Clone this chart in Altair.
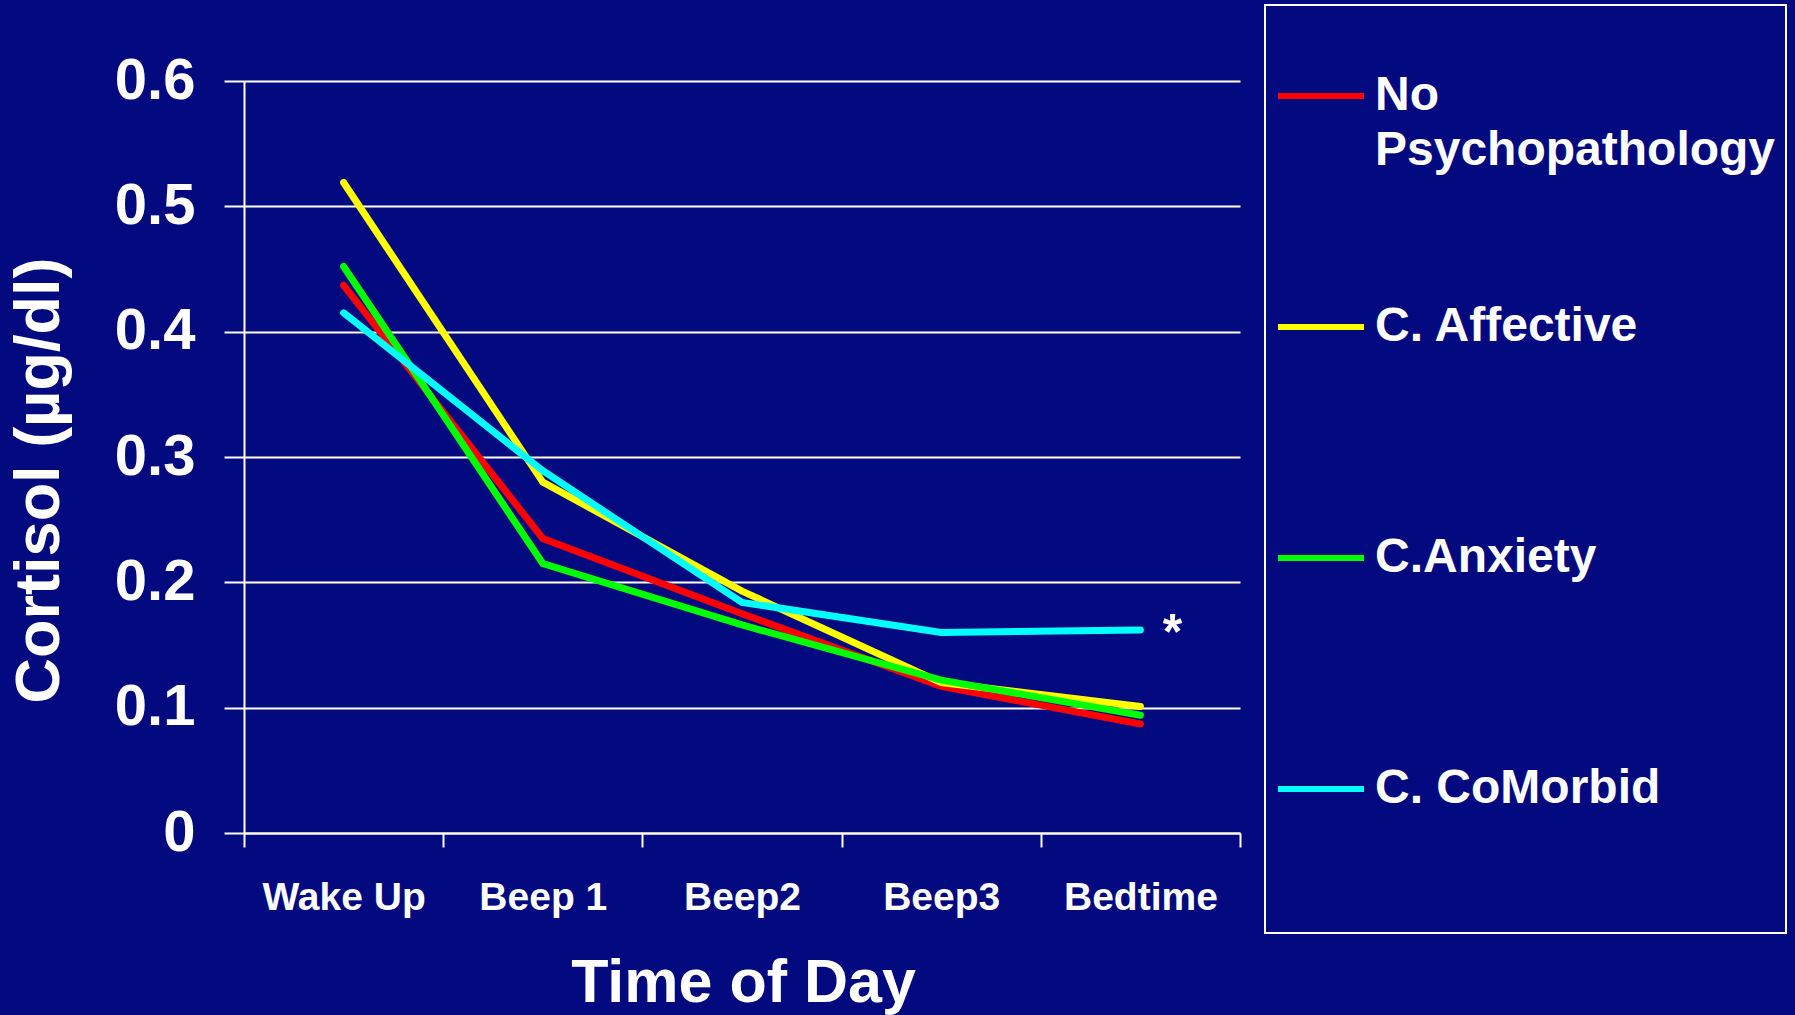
import json
import altair as alt
import pandas as pd

# ---- data ----
categories = ["Wake Up", "Beep 1", "Beep2", "Beep3", "Bedtime"]
series_names = ["No Psychopathology", "C. Affective", "C.Anxiety", "C. CoMorbid"]
series_colors = ["#ff0000", "#ffff00", "#00ff00", "#00ffff"]
no_psychopathology = [0.437, 0.235, 0.175, 0.117, 0.087]
c_affective = [0.519, 0.280, 0.193, 0.120, 0.101]
c_anxiety = [0.452, 0.215, 0.166, 0.122, 0.094]
c_comorbid = [0.415, 0.289, 0.184, 0.160, 0.162]
y_ticks = [0, 0.1, 0.2, 0.3, 0.4, 0.5, 0.6]
annotation_text = ["*"]

series_values = [no_psychopathology, c_affective, c_anxiety, c_comorbid]
rows = []
for s_idx, (name, vals) in enumerate(zip(series_names, series_values)):
    for i, (cat, v) in enumerate(zip(categories, vals)):
        rows.append({"series": name, "xi": i, "time": cat, "cortisol": v, "sorder": s_idx})
df = pd.DataFrame(rows)

star_df = pd.DataFrame({
    "xi": [len(categories) - 1],
    "cortisol": [c_comorbid[-1]],
    "label": annotation_text,
})

FONT = "Liberation Sans"
NARROW = "Liberation Sans Narrow, Liberation Sans"

# x axis: ticks at category boundaries, labels at category centres
boundaries = [i - 0.5 for i in range(len(categories) + 1)]
centres = list(range(len(categories)))
x_values = sorted(boundaries + centres)
cat_js = json.dumps(categories)

# legend labels: first one wraps onto two lines; the others get blank lines so
# every legend row has the same height, the last one a bit more for the frame
first, last = series_names[0], series_names[-1]
first_words = first.split(" ", 1)
legend_label_expr = (
    f"datum.label == {json.dumps(first)} ? {json.dumps(first_words)} : "
    f"datum.label == {json.dumps(last)} ? [datum.label, '', ''] : [datum.label, '']"
)

x_enc = alt.X(
    "xi:Q",
    scale=alt.Scale(domain=[-0.5, len(categories) - 0.5], nice=False, zero=False),
    title="Time of Day",
    axis=alt.Axis(
        values=x_values,
        labelExpr=f"datum.value % 1 === 0 ? {cat_js}[datum.value] : ''",
        tickOpacity={"condition": {"test": "datum.value % 1 !== 0", "value": 1}, "value": 0},
        tickSize=14,
        tickWidth=2,
        tickColor="white",
        domainColor="white",
        domainWidth=2,
        grid=False,
        labelFont=FONT,
        labelFontSize=39,
        labelFontWeight="bold",
        labelColor="white",
        labelPadding=31,
        labelOverlap=False,
        labelFlush=False,
        titleFont=FONT,
        titleFontSize=61,
        titleFontWeight="bold",
        titleColor="white",
        titleX=499,
        titleY=168,
        titleAlign="center",
        titleBaseline="alphabetic",
    ),
)

y_enc = alt.Y(
    "cortisol:Q",
    scale=alt.Scale(domain=[0, 0.6], nice=False, zero=True),
    title="Cortisol (µg/dl)",
    axis=alt.Axis(
        values=y_ticks,
        labelExpr="datum.value == 0 ? '0' : format(datum.value, '.1f')",
        tickSize=20,
        tickWidth=2,
        tickColor="white",
        domainColor="white",
        domainWidth=2,
        grid=True,
        gridColor="white",
        gridWidth=2,
        gridOpacity=1,
        labelFont=NARROW,
        labelFontSize=58,
        labelFontWeight="bold",
        labelColor="white",
        labelPadding=29,
        titleFont=FONT,
        titleFontSize=63,
        titleFontWeight="bold",
        titleColor="white",
        titleAngle=270,
        titleX=-186,
        titleY=399,
        titleAlign="center",
        titleBaseline="alphabetic",
    ),
)

color_enc = alt.Color(
    "series:N",
    scale=alt.Scale(domain=series_names, range=series_colors),
    title=" ",
    legend=alt.Legend(
        orient="none",
        legendX=1021,
        legendY=-76,
        direction="vertical",
        symbolType="stroke",
        symbolSize=7396,
        symbolStrokeWidth=6,
        labelFont=FONT,
        labelFontSize=48,
        labelFontWeight="bold",
        labelColor="white",
        labelLimit=800,
        labelOffset=8,
        labelExpr=legend_label_expr,
        rowPadding=106,
        padding=10,
        strokeColor="white",
        titleFontSize=20,
        titlePadding=15,
        titleColor="white",
    ),
)

lines = alt.Chart(df).mark_line(strokeWidth=7, strokeCap="round", strokeJoin="miter").encode(
    x=x_enc,
    y=y_enc,
    color=color_enc,
    order=alt.Order("xi:Q"),
)

star = alt.Chart(star_df).mark_text(
    font=FONT, fontSize=50, fontWeight="bold", color="white",
    dx=32, dy=19, baseline="alphabetic", align="center",
).encode(
    x=x_enc,
    y=y_enc,
    text="label:N",
)

chart = alt.layer(lines, star).properties(
    width=996,
    height=752,
    autosize=alt.AutoSizeParams(type="none"),
    padding={"left": 244, "top": 81, "right": 555, "bottom": 182},
).configure(
    background="#03097f",
    style={"guide-label": {"lineHeight": 55}},
).configure_view(
    strokeOpacity=0,
).configure_legend(
    strokeWidth=2,
)

chart.save("out.html", embed_options={"renderer": "svg", "actions": False})
